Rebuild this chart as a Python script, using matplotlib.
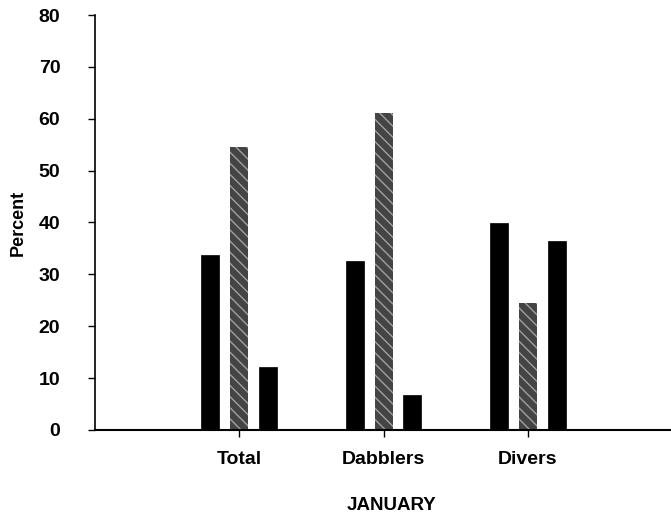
import matplotlib
matplotlib.use("Agg")
import matplotlib.pyplot as plt
import numpy as np

categories = ["Total", "Dabblers", "Divers"]
series1 = [33.7, 32.6, 39.9]   # black
series2 = [54.5, 61.1, 24.5]   # gray hatched
series3 = [12.1, 6.7, 36.4]    # black
yticks = [0, 10, 20, 30, 40, 50, 60, 70, 80]

plt.rcParams['font.family'] = ['Liberation Sans', 'DejaVu Sans']
plt.rcParams['hatch.linewidth'] = 1.0

fig = plt.figure(figsize=(6.71, 5.21), dpi=100)
ax = fig.add_axes([0.1416, 0.1747, 0.86, 0.7965])

x = np.arange(len(categories))
w = 0.125
ax.bar(x - 0.2, series1, w, color='black', edgecolor='black', linewidth=0.5)
ax.bar(x, series2, w, facecolor='#444444', edgecolor='#a0a0a0', hatch='\\\\\\', linewidth=0)
ax.bar(x + 0.2, series3, w, color='black', edgecolor='black', linewidth=0.5)

ax.set_xlim(-1, 3)
ax.set_ylim(0, 80)
ax.set_xticks(x)
ax.set_xticklabels(categories, fontsize=14, fontweight='bold')
ax.set_yticks(yticks)
ax.set_yticklabels([str(t) for t in yticks], fontsize=14, fontweight='bold')
ax.tick_params(axis='x', length=5, width=1, pad=10)
ax.tick_params(axis='y', length=5, width=1, pad=20)
for s in ['top', 'right']:
    ax.spines[s].set_visible(False)
ax.spines['left'].set_linewidth(1.2)
ax.spines['bottom'].set_linewidth(1.5)

ax.set_ylabel("Percent", fontsize=13, fontweight='bold')
ax.yaxis.set_label_coords(-0.1334, 0.5)
ax.yaxis.label.set_va('center')
ax.set_xlabel("JANUARY", fontsize=13.5, fontweight='bold')
ax.xaxis.set_label_coords(0.5135, -0.181)
ax.xaxis.label.set_va('center')

fig.savefig("out.png", dpi=100)
